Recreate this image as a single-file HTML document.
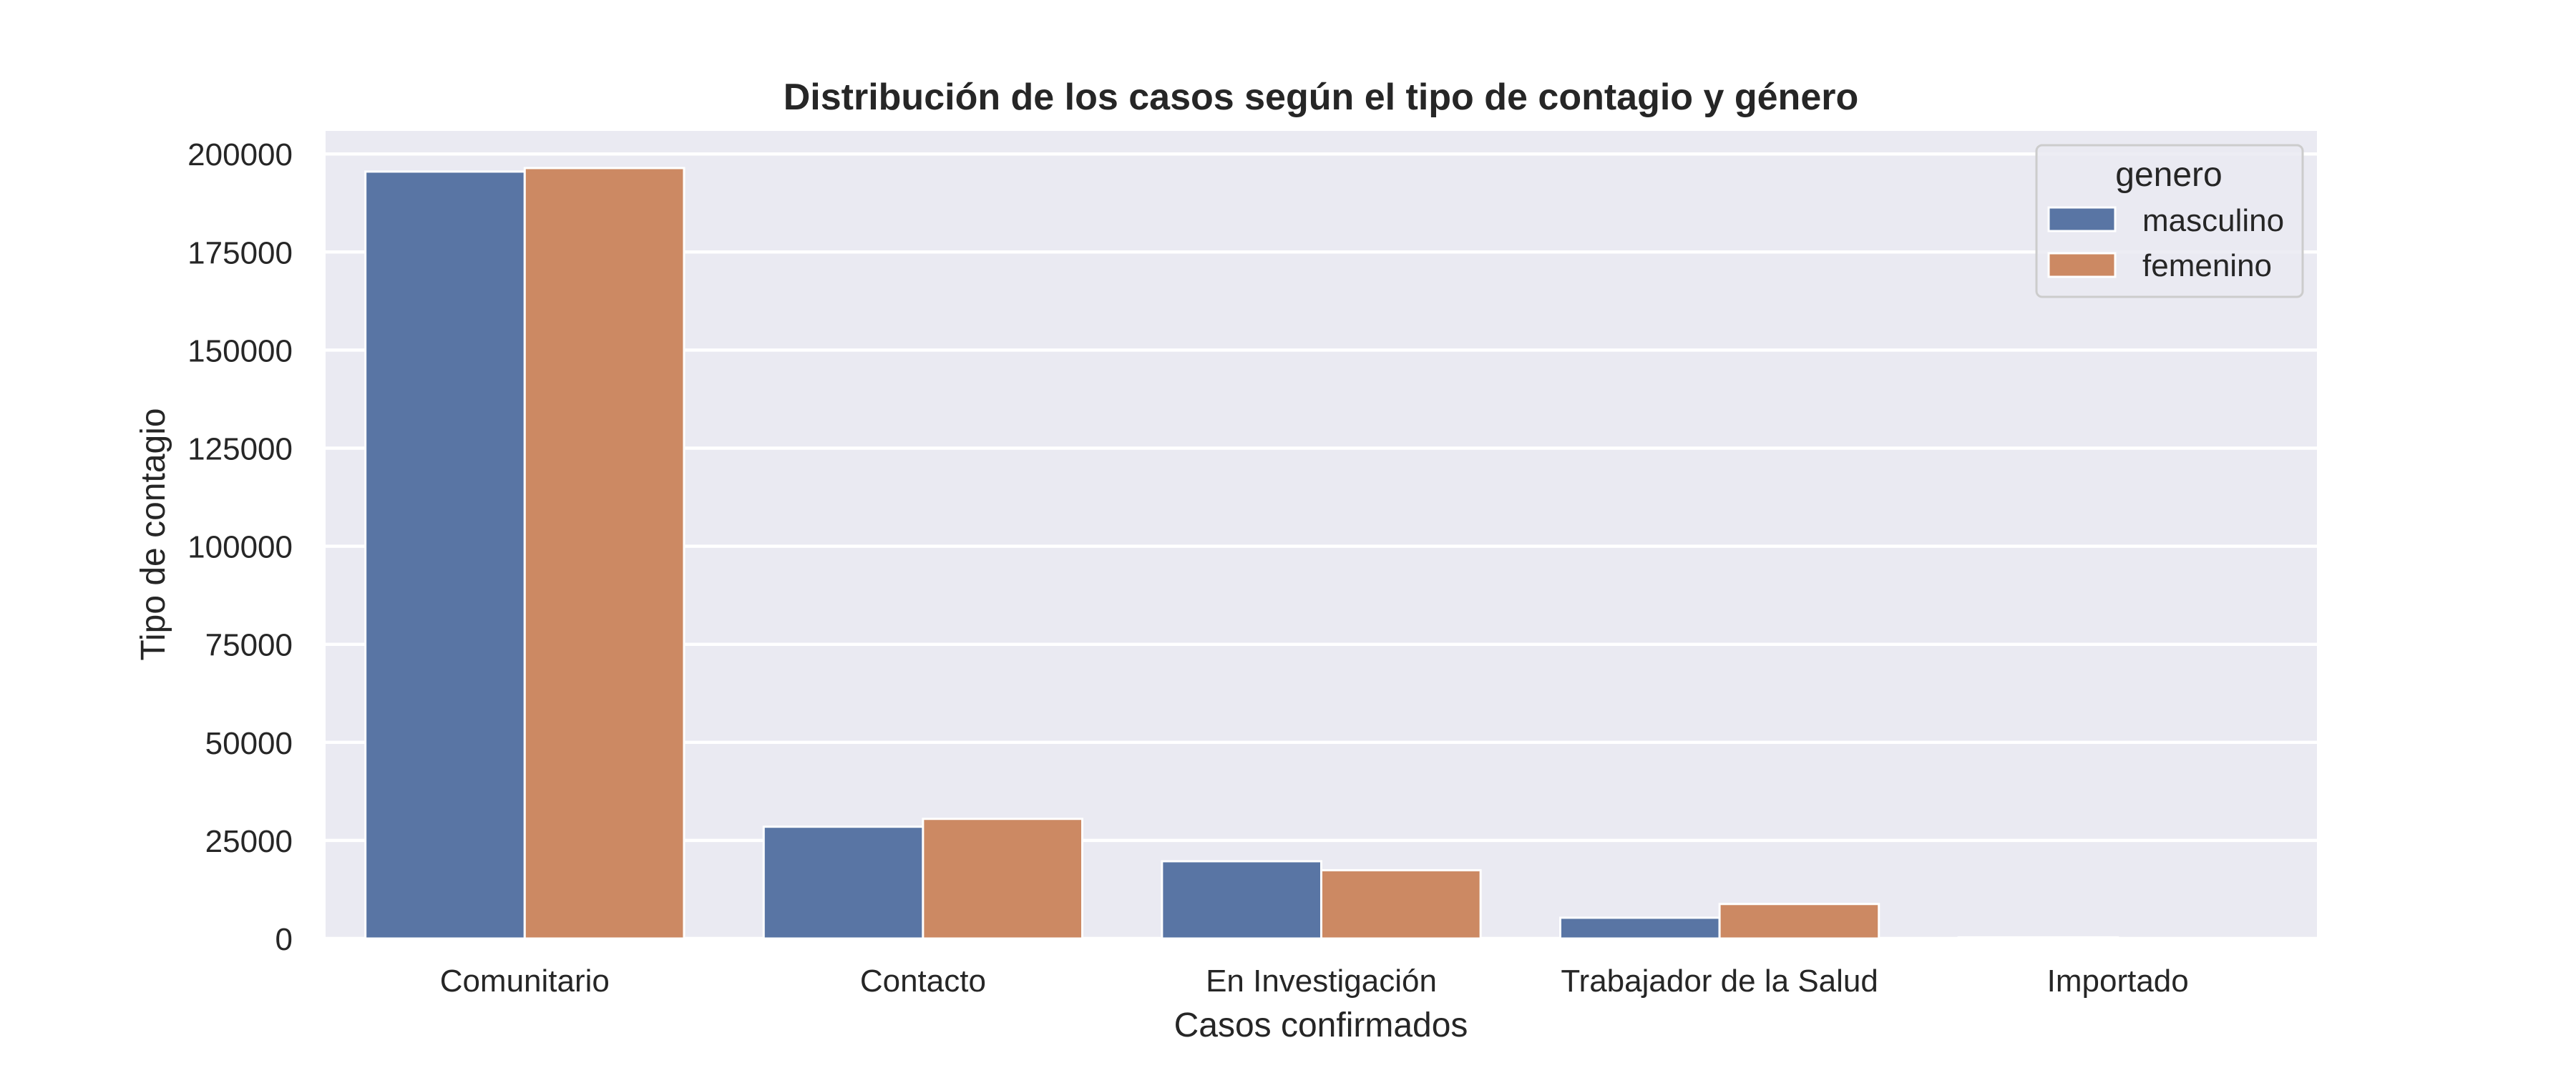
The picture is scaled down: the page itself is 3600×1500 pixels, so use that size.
<!DOCTYPE html>
<html><head><meta charset="utf-8"><style>
html,body{margin:0;padding:0;background:#fff;}
svg{display:block;font-family:"Liberation Sans",Arial,sans-serif;}
</style></head><body>
<svg id="chart" width="3600" height="1500" viewBox="0 0 3600 1500">
  <rect x="0" y="0" width="3600" height="1500" fill="#fff"/>
  <rect id="plotbg" x="455" y="183" width="2783" height="1129" fill="#eaeaf2"/>
  <g id="grid"></g>
  <g id="bars"></g>
  <g id="yticks"></g>
  <g id="xticks"></g>
  <text x="1846" y="153" text-anchor="middle" font-size="52" font-weight="bold" fill="#262626">Distribución de los casos según el tipo de contagio y género</text>
  <text x="1846" y="1449" text-anchor="middle" font-size="48" fill="#262626">Casos confirmados</text>
  <text x="0" y="0" transform="translate(230,747) rotate(-90)" text-anchor="middle" font-size="48" fill="#262626">Tipo de contagio</text>
  <g>
    <rect x="2846" y="203" width="372" height="212" rx="8" fill="#eaeaf2" fill-opacity="0.85" stroke="#cccccc" stroke-width="3"/>
    <text x="3031" y="260" text-anchor="middle" font-size="48" fill="#262626">genero</text>
    <rect x="2863" y="290" width="93" height="33" fill="#5975a4" stroke="#fff" stroke-width="3"/>
    <text x="2994" y="323" font-size="44" fill="#262626">masculino</text>
    <rect x="2863" y="354" width="93" height="33" fill="#cc8963" stroke="#fff" stroke-width="3"/>
    <text x="2994" y="386" font-size="44" fill="#262626">femenino</text>
  </g>
</svg>
<script>
const categories = ["Comunitario","Contacto","En Investigación","Trabajador de la Salud","Importado"];
const masculino = [195500, 28500, 19700, 5300, 300];
const femenino = [196400, 30500, 17400, 8800, 100];
const yTicks = [0,25000,50000,75000,100000,125000,150000,175000,200000];
const yTickLabels = ["0","25000","50000","75000","100000","125000","150000","175000","200000"];

const NS = "http://www.w3.org/2000/svg";
const plotLeft = 455, plotRight = 3238, plotY0 = 1312, plotTop = 183;
const yMax = (plotY0 - plotTop) / 0.005484;
function yScale(v){ return plotY0 - v / yMax * (plotY0 - plotTop); }
function xScale(i){ return plotLeft + (i + 0.5) * (plotRight - plotLeft) / categories.length; }
const step = (plotRight - plotLeft) / categories.length;
const barW = step * 0.4;

const grid = document.getElementById('grid');
const yt = document.getElementById('yticks');
yTicks.forEach((t, i) => {
  const y = yScale(t);
  const l = document.createElementNS(NS, 'line');
  l.setAttribute('x1', plotLeft); l.setAttribute('x2', plotRight);
  l.setAttribute('y1', y); l.setAttribute('y2', y);
  l.setAttribute('stroke', '#fff'); l.setAttribute('stroke-width', '4.5');
  
  
  grid.appendChild(l);
  const tx = document.createElementNS(NS, 'text');
  tx.setAttribute('x', 409); tx.setAttribute('y', y + 16);
  tx.setAttribute('text-anchor', 'end'); tx.setAttribute('font-size', '44');
  tx.setAttribute('fill', '#262626');
  tx.textContent = yTickLabels[i];
  
  
  yt.appendChild(tx);
});

const bars = document.getElementById('bars');
const xt = document.getElementById('xticks');
function addBar(x, v, color, name){
  const r = document.createElementNS(NS, 'rect');
  const y = yScale(v);
  r.setAttribute('x', x); r.setAttribute('y', y);
  r.setAttribute('width', barW); r.setAttribute('height', Math.max(0, plotY0 - y));
  r.setAttribute('fill', color); r.setAttribute('stroke', '#fff'); r.setAttribute('stroke-width', '3');
  
  
  bars.appendChild(r);
}
categories.forEach((c, i) => {
  const cx = xScale(i);
  addBar(cx - barW, masculino[i], '#5975a4', 'bar-masculino');
  addBar(cx, femenino[i], '#cc8963', 'bar-femenino');
  const tx = document.createElementNS(NS, 'text');
  tx.setAttribute('x', cx); tx.setAttribute('y', 1386);
  tx.setAttribute('text-anchor', 'middle'); tx.setAttribute('font-size', '44');
  tx.setAttribute('fill', '#262626');
  tx.textContent = c;
  
  
  xt.appendChild(tx);
});
</script>
</body></html>
